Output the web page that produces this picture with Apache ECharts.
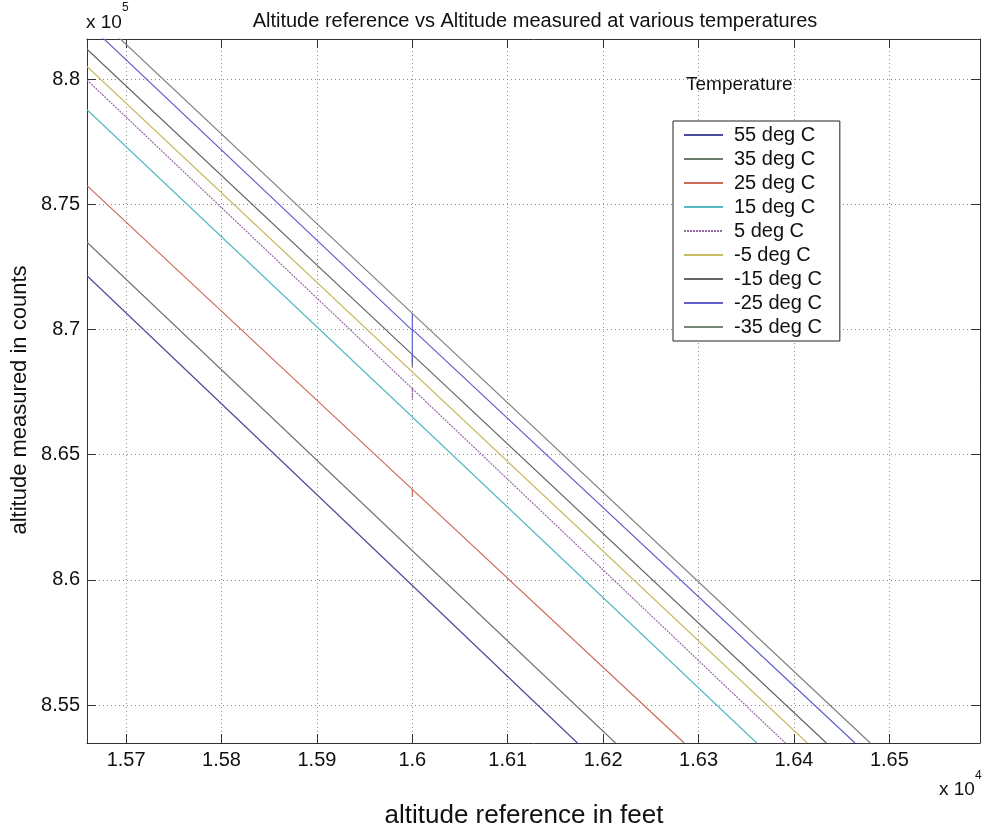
<!DOCTYPE html>
<html>
<head>
<meta charset="utf-8">
<script src="https://cdn.jsdelivr.net/npm/echarts@6/dist/echarts.min.js"></script>
<style>
html,body{margin:0;padding:0;background:#fff;}
#chart{width:984px;height:829px;}
</style>
</head>
<body>
<div id="chart"></div>
<script>
// ---- data ----
const seriesNames = ['55 deg C','35 deg C','25 deg C','15 deg C','5 deg C','-5 deg C','-15 deg C','-25 deg C','-35 deg C'];
const feet_55  = [15659, 16000, 16173];
const counts_55 = [872140, 859770, 853480];
const feet_35  = [15659, 16000, 16213];
const counts_35 = [873480, 861160, 853480];
const feet_25  = [15659, 16000, 16000, 16000, 16285];
const counts_25 = [875740, 863610, 863310, 863610, 853480];
const feet_15  = [15659, 16000, 16361];
const counts_15 = [878770, 866500, 853480];
const feet_5   = [15659, 16000, 16000, 16000, 16391];
const counts_5  = [879960, 867630, 867180, 867630, 853480];
const feet_m5  = [15659, 16000, 16414];
const counts_m5 = [880500, 868300, 853480];
const feet_m15 = [15659, 16000, 16000, 16000, 16434];
const counts_m15 = [881190, 868990, 868510, 868990, 853480];
const feet_m25 = [15659, 16000, 16000, 16000, 16000, 16464];
const counts_m25 = [882240, 869960, 870640, 868650, 870000, 853480];
const feet_m35 = [15659, 16000, 16480];
const counts_m35 = [882850, 870640, 853480];

const xTicks = [15700, 15800, 15900, 16000, 16100, 16200, 16300, 16400, 16500];
const xTickLabels = ['1.57','1.58','1.59','1.6','1.61','1.62','1.63','1.64','1.65'];
const yTicks = [855000, 860000, 865000, 870000, 875000, 880000];
const yTickLabels = ['8.55','8.6','8.65','8.7','8.75','8.8'];

const seriesFeet = [feet_55, feet_35, feet_25, feet_15, feet_5, feet_m5, feet_m15, feet_m25, feet_m35];
const seriesCounts = [counts_55, counts_35, counts_25, counts_15, counts_5, counts_m5, counts_m15, counts_m25, counts_m35];

// ---- styles ----
const colors = ['#4c4c9c','#6c7c6c','#cc6a58','#56bac4','#9a6aa8','#c8bc66','#666666','#6060cc','#788678'];
const dash = ['solid','solid','solid','solid',[2,1],'solid','solid','solid','solid'];
const FONT = 'Liberation Sans, Arial, sans-serif';

const chart = echarts.init(document.getElementById('chart'), null, {renderer:'canvas'});

const series = seriesNames.map((name, i) => ({
  name: name,
  type: 'line',
  xAxisIndex: 0,
  yAxisIndex: 0,
  symbol: 'none',
  showSymbol: false,
  clip: true,
  animation: false,
  lineStyle: {color: colors[i], width: 1.2, type: dash[i]},
  itemStyle: {color: colors[i]},
  data: seriesFeet[i].map((f, k) => [f, seriesCounts[i][k]])
}));

const xLabelFmt = v => { const k = xTicks.indexOf(v); return k >= 0 ? xTickLabels[k] : ''; };
const yLabelFmt = v => { const k = yTicks.indexOf(v); return k >= 0 ? yTickLabels[k] : ''; };

const gridLine = {show: true, lineStyle: {color: '#8c8c8c', width: 1, type: [1, 3]}};
const axisLine = {show: true, onZero: false, lineStyle: {color: '#333', width: 1}};

const option = {
  backgroundColor: '#fff',
  animation: false,
  title: {
    text: 'Altitude reference vs Altitude measured at various temperatures',
    left: 530, textAlign: 'center', top: 6,
    textStyle: {fontFamily: FONT, fontSize: 20, fontWeight: 'normal', color: '#111'}
  },
  grid: {left: 87, top: 39, right: 4, bottom: 86, containLabel: false},
  xAxis: [{
    type: 'value', position: 'bottom', min: 15659, max: 16595,
    axisLine: axisLine,
    axisTick: {show: true, inside: true, length: 9, customValues: xTicks, lineStyle: {color: '#333'}},
    axisLabel: {show: true, customValues: xTicks, formatter: xLabelFmt, margin: 7,
      fontFamily: FONT, fontSize: 20, color: '#111'},
    splitLine: gridLine
  }, {
    type: 'value', position: 'top', min: 15659, max: 16595,
    axisLine: axisLine,
    axisTick: {show: true, inside: true, length: 9, customValues: xTicks, lineStyle: {color: '#333'}},
    axisLabel: {show: false},
    splitLine: {show: false}
  }],
  yAxis: [{
    type: 'value', position: 'left', min: 853482, max: 881597,
    axisLine: axisLine,
    axisTick: {show: true, inside: true, length: 9, customValues: yTicks, lineStyle: {color: '#333'}},
    axisLabel: {show: true, customValues: yTicks, formatter: yLabelFmt, margin: 7,
      fontFamily: FONT, fontSize: 20, color: '#111'},
    splitLine: gridLine
  }, {
    type: 'value', position: 'right', min: 853482, max: 881597,
    axisLine: axisLine,
    axisTick: {show: true, inside: true, length: 9, customValues: yTicks, lineStyle: {color: '#333'}},
    axisLabel: {show: false},
    splitLine: {show: false}
  }],
  legend: {
    data: seriesNames,
    orient: 'vertical',
    left: 673, top: 121,
    padding: [4, 18, 4, 10],
    itemGap: 4,
    itemWidth: 39, itemHeight: 14,
    itemStyle: {opacity: 0},
    backgroundColor: '#fff',
    borderColor: '#222', borderWidth: 1,
    textStyle: {fontFamily: FONT, fontSize: 20, lineHeight: 20, color: '#111', padding: [0, 0, 0, 6]},
    selectedMode: false
  },
  graphic: [
    {type: 'text', left: 686, top: 75, style: {text: 'Temperature', font: '19px ' + FONT, fill: '#111'}},
    {type: 'text', x: 86, y: 23, style: {text: 'x 10', font: '19px ' + FONT, fill: '#111', verticalAlign: 'middle'}},
    {type: 'text', x: 122, y: 8, style: {text: '5', font: '12px ' + FONT, fill: '#111', verticalAlign: 'middle'}},
    {type: 'text', x: 939, y: 790, style: {text: 'x 10', font: '19px ' + FONT, fill: '#111', verticalAlign: 'middle'}},
    {type: 'text', x: 975, y: 776, style: {text: '4', font: '12px ' + FONT, fill: '#111', verticalAlign: 'middle'}},
    {type: 'text', x: 524, y: 816, style: {text: 'altitude reference in feet', font: '26px ' + FONT, fill: '#111', align: 'center', verticalAlign: 'middle'}},
    {type: 'text', x: 20, y: 400, rotation: Math.PI / 2, style: {text: 'altitude measured in counts', font: '22px ' + FONT, fill: '#111', align: 'center', verticalAlign: 'middle'}}
  ],
  series: series
};
chart.setOption(option);
</script>
</body>
</html>
